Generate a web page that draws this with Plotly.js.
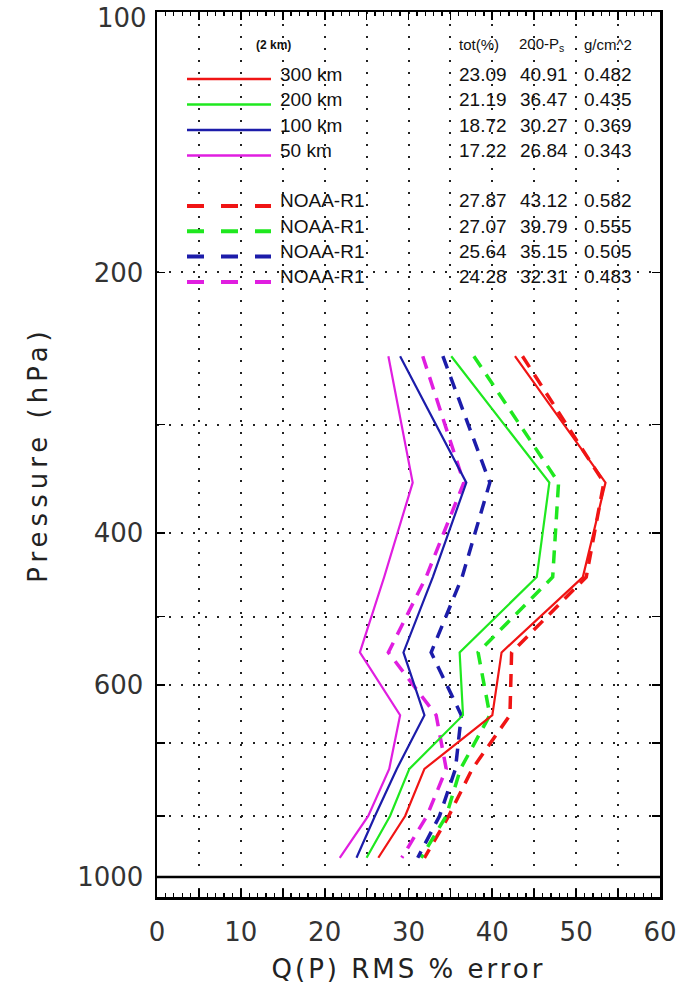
<!DOCTYPE html>
<html>
<head>
<meta charset="utf-8">
<script src="https://cdn.plot.ly/plotly-3.0.1.min.js"></script>
<style>html,body{margin:0;padding:0;background:#fff;}#chart{width:683px;height:987px;}</style>
</head>
<body>
<div id="chart"></div>
<script>
// ---------------- data ----------------
const pressureLevels = [250, 350, 450, 550, 650, 750, 850, 950];

const km300 = [42.7, 53.5, 50.8, 41.1, 40.0, 31.9, 29.6, 26.4];
const km200 = [35.1, 46.8, 45.3, 36.1, 36.5, 30.1, 27.8, 25.0];
const km100 = [29.0, 36.9, 32.9, 29.4, 31.9, 28.6, 26.0, 23.8];
const km50  = [27.6, 30.5, 27.1, 24.2, 29.0, 27.7, 25.2, 21.8];

const noaa300 = [43.6, 53.3, 51.2, 42.3, 42.1, 37.6, 34.8, 31.9];
const noaa200 = [37.8, 47.9, 47.2, 38.3, 39.7, 36.2, 34.5, 31.5];
const noaa100 = [34.1, 39.7, 36.4, 32.7, 36.3, 35.6, 33.7, 31.1];
const noaa50  = [31.7, 36.6, 32.1, 27.6, 33.3, 34.5, 32.2, 29.2];

const seriesNames = ['300 km', '200 km', '100 km', '50 km'];
const noaaName = 'NOAA-R1';
const totPct   = [23.09, 21.19, 18.72, 17.22];
const p200Pct  = [40.91, 36.47, 30.27, 26.84];
const gcm2     = [0.482, 0.435, 0.369, 0.343];
const noaaTot  = [27.87, 27.07, 25.64, 24.28];
const noaaP200 = [43.12, 39.79, 35.15, 32.31];
const noaaGcm2 = [0.582, 0.555, 0.505, 0.483];

const xTickVals = [0, 5, 10, 15, 20, 25, 30, 35, 40, 45, 50, 55, 60];
const xTickText = ['0', ' ', '10', ' ', '20', ' ', '30', ' ', '40', ' ', '50', ' ', '60'];
const yTickVals = [200, 300, 400, 500, 600, 700, 850, 1000];
const yTickText = ['200', ' ', '400', ' ', '600', ' ', ' ', '1000'];
const yTopLabel = '100';
const surfaceLevel = 1000;

// ---------------- styling ----------------
const colors = ['#f01414', '#1fe81f', '#1c1caa', '#e01ee0'];
const solidSets = [km300, km200, km100, km50];
const dashSets = [noaa300, noaa200, noaa100, noaa50];

const FONT = 'DejaVu Sans, sans-serif';
const LFONT = 'Liberation Sans, Arial, sans-serif';
const sp = (s, ls) => '<span style="letter-spacing:' + ls + 'px">' + s + '</span>';

const traces = [];
dashSets.forEach((d, i) => traces.push({
  x: d, y: pressureLevels, type: 'scatter', mode: 'lines', showlegend: false,
  name: noaaName, line: {color: colors[i], width: 3.5, dash: '13px,9px'}
}));
solidSets.forEach((d, i) => traces.push({
  x: d, y: pressureLevels, type: 'scatter', mode: 'lines', showlegend: false,
  name: seriesNames[i], line: {color: colors[i], width: 2.2}
}));

// plot-area pixel geometry (layout only)
const PL = 157, PR = 660, PT = 12, PB = 897;
const PW = PR - PL, PH = PB - PT;
const fx = px => (px - PL) / PW;
const fy = py => (PB - py) / PH;

// surface (1000 hPa) reference line
const shapes = [{type: 'line', xref: 'paper', yref: 'y', x0: 0, x1: 1,
  y0: surfaceLevel, y1: surfaceLevel, line: {color: '#000', width: 2.5}, layer: 'above'}];
const annotations = [];
const ann = (text, x, y, size, extra) => annotations.push(Object.assign({
  text: text, xref: 'paper', yref: 'paper', x: fx(x), y: fy(y),
  xanchor: 'left', yanchor: 'middle', showarrow: false,
  font: {family: LFONT, size: size, color: '#111'}
}, extra || {}));

// top pressure label (sits just below the frame corner, as in the original)
ann(yTopLabel, 149, 18, 26, {xanchor: 'right', font: {family: FONT, size: 26, color: '#333'}});

// header
ann('<b>(2 km)</b>', 254, 45, 12);
ann('tot(%)', 457, 44, 15);
ann('200-P<sub>s</sub>', 517, 44, 15);
ann('g/cm^2', 582, 44, 15);

const keyX0 = 187, keyX1 = 271;
seriesNames.forEach((n, i) => {
  const ty = 74 + i * 25.5;
  shapes.push({type: 'line', xref: 'paper', yref: 'paper', x0: fx(keyX0), x1: fx(keyX1),
    y0: fy(ty + 5), y1: fy(ty + 5), line: {color: colors[i], width: 2.5}});
  ann(n, 278, ty, 19);
  ann(totPct[i].toFixed(2), 457, ty, 19);
  ann(p200Pct[i].toFixed(2), 518, ty, 19);
  ann(gcm2[i].toFixed(3), 582, ty, 19);
});
seriesNames.forEach((n, i) => {
  const ty = 201 + i * 25.3;
  shapes.push({type: 'line', xref: 'paper', yref: 'paper', x0: fx(keyX0), x1: fx(keyX1),
    y0: fy(ty + 5), y1: fy(ty + 5), line: {color: colors[i], width: 4, dash: '17px,17px'}});
  ann(noaaName, 278, ty, 19);
  ann(noaaTot[i].toFixed(2), 457, ty, 19);
  ann(noaaP200[i].toFixed(2), 518, ty, 19);
  ann(noaaGcm2[i].toFixed(3), 582, ty, 19);
});

const yRange = [Math.log10(1054.6), 2];
const gridDash = '2px,10px';

const layout = {
  width: 683, height: 987,
  margin: {l: PL, r: 683 - PR, t: PT, b: 987 - PB, pad: 0},
  paper_bgcolor: '#fff', plot_bgcolor: '#fff',
  font: {family: FONT, color: '#222'},
  showlegend: false,
  xaxis: {
    range: [0, 60], autorange: false, tickmode: 'array',
    tickvals: xTickVals, ticktext: xTickText,
    ticks: 'inside', ticklen: 8, tickwidth: 1.8, tickcolor: '#000',
    ticklabelstandoff: 10, ticklabeloverflow: 'allow',
    tickfont: {family: FONT, size: 26, color: '#333'},
    showline: true, linecolor: '#000', linewidth: 2.5, mirror: 'ticks',
    showgrid: true, gridcolor: '#222', gridwidth: 2, griddash: gridDash,
    zeroline: false,
    minor: {tickmode: 'linear', tick0: 0, dtick: 1, ticks: 'inside', ticklen: 4,
            tickwidth: 1.3, tickcolor: '#000', showgrid: false},
    title: {text: sp('Q(P) RMS % error', 3), standoff: 14,
            font: {family: FONT, size: 26, color: '#222'}}
  },
  yaxis: {
    type: 'log', range: yRange, autorange: false, tickmode: 'array',
    tickvals: yTickVals, ticktext: yTickText,
    ticks: 'inside', ticklen: 8, tickwidth: 1.5, tickcolor: '#000',
    ticklabelstandoff: 6, ticklabeloverflow: 'allow',
    tickfont: {family: FONT, size: 26, color: '#333'},
    showline: true, linecolor: '#000', linewidth: 2.5, mirror: 'ticks',
    showgrid: true, gridcolor: '#222', gridwidth: 2, griddash: gridDash,
    zeroline: false,
    title: {text: sp('Pressure (hPa)', 5), standoff: 22,
            font: {family: FONT, size: 26, color: '#222'}}
  },
  shapes: shapes,
  annotations: annotations
};

Plotly.newPlot('chart', traces, layout, {staticPlot: true, displayModeBar: false});
</script>
</body>
</html>
